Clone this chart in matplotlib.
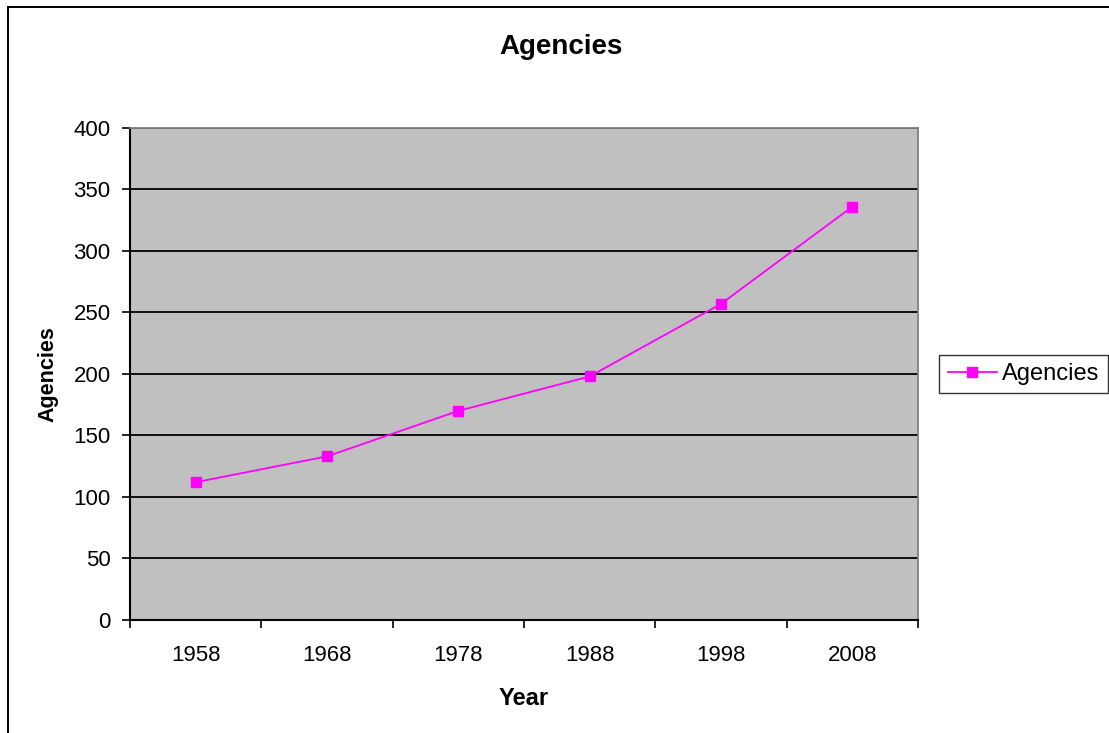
import numpy as np
import matplotlib
matplotlib.use("Agg")
import matplotlib.pyplot as plt
from matplotlib.lines import Line2D

plt.rcParams['font.family'] = ['Liberation Sans', 'DejaVu Sans']

# Data
years = ['1958', '1968', '1978', '1988', '1998', '2008']
agencies = [112, 133, 170, 198, 257, 336]
y_ticks = [0, 50, 100, 150, 200, 250, 300, 350, 400]

fig = plt.figure(figsize=(11.09, 7.33), dpi=100)
ax = fig.add_axes([0.1172, 0.1542, 0.7106, 0.6712])
ax.set_facecolor('#C0C0C0')

x = np.arange(len(years))
ax.plot(x, agencies, color='#FF00FF', linewidth=1.3, marker='s',
        markersize=7, markeredgecolor='#FF00FF', label='Agencies', zorder=3)

ax.set_xlim(-0.5, len(years) - 0.5)
ax.set_ylim(0, 400)
ax.set_yticks(y_ticks)
ax.yaxis.grid(True, color='black', linewidth=1.3)
ax.set_axisbelow(True)

# category labels at centres, ticks at boundaries
ax.set_xticks(x)
ax.set_xticklabels(years)
ax.set_xticks(np.arange(-0.5, len(years)), minor=True)
ax.tick_params(axis='x', which='major', length=0, pad=18, labelsize=16)
ax.tick_params(axis='x', which='minor', length=6, width=1.2, direction='out')
ax.tick_params(axis='y', length=6, width=1.2, direction='out', pad=8, labelsize=16)

for side in ['top', 'right']:
    ax.spines[side].set_color('#808080')
    ax.spines[side].set_linewidth(1.3)
for side in ['left', 'bottom']:
    ax.spines[side].set_color('black')
    ax.spines[side].set_linewidth(1.5)

# title is centred on the figure, not on the plot area
fig.text(0.506, 0.936, 'Agencies', fontsize=20, fontweight='bold',
         ha='center', va='center')
ax.set_xlabel('Year', fontsize=17, fontweight='bold', labelpad=15)
ax.set_ylabel('Agencies', fontsize=15.5, fontweight='bold', labelpad=11)

leg = ax.legend(loc='center left', bbox_to_anchor=(1.027, 0.5), fontsize=17,
                frameon=True, fancybox=False, edgecolor='black',
                handlelength=2.1, borderpad=0.35, handletextpad=0.2,
                borderaxespad=0)
leg.get_frame().set_linewidth(1.0)

# figure border
fig.add_artist(Line2D([0.0075, 0.0075], [0, 0.99], color='black', lw=1.4,
                      transform=fig.transFigure))
fig.add_artist(Line2D([0.0075, 1.0], [0.99, 0.99], color='black', lw=1.4,
                      transform=fig.transFigure))

fig.savefig('out.png', dpi=100)
